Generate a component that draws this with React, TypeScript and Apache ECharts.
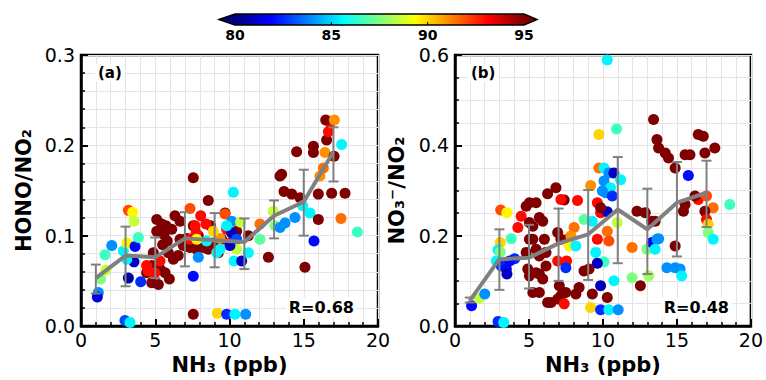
import { useEffect, useRef } from "react";
import * as echarts from "echarts";

// ---------- data ----------
// [NH3 (ppb), HONO/NO2, colour value]
const pointsA: number[][] = [
  [1.17, 0.037, 84], [1.1, 0.032, 81.5], [1.32, 0.052, 87.5], [1.68, 0.062, 88.5], [1.62, 0.079, 86.5],
  [2.07, 0.089, 84], [2.85, 0.083, 85.5], [3.08, 0.092, 89.5], [3.19, 0.128, 92], [3.48, 0.126, 89.5],
  [3.57, 0.116, 88.5], [3.64, 0.088, 82], [3.57, 0.071, 81], [3.19, 0.053, 80.5], [4.02, 0.049, 82.5],
  [3.86, 0.098, 86.5], [2.96, 0.006, 83], [3.3, 0.004, 85.5], [3.08, 0.074, 85.5],
  [4.42, 0.059, 95], [4.76, 0.048, 95], [5.21, 0.046, 95], [5.32, 0.063, 95], [5.1, 0.118, 95],
  [5.43, 0.113, 95], [5.59, 0.101, 95], [5.81, 0.094, 95], [5.95, 0.052, 95], [5.88, 0.081, 95],
  [6.22, 0.074, 95], [6.33, 0.122, 95], [6.67, 0.116, 95], [6.55, 0.078, 95], [6.89, 0.089, 95],
  [7.12, 0.097, 95], [7.56, 0.164, 95], [8.57, 0.139, 95], [7.56, 0.111, 95], [7.9, 0.1, 95],
  [7.34, 0.087, 95], [7.79, 0.085, 95], [8.24, 0.087, 95], [8.73, 0.111, 95], [8.91, 0.092, 95],
  [9.7, 0.125, 95], [5.5, 0.09, 95], [5.1, 0.105, 95], [5.72, 0.111, 95], [6.11, 0.107, 95],
  [4.87, 0.081, 95], [4.76, 0.067, 95], [5.66, 0.059, 95], [6.67, 0.096, 95], [9.25, 0.081, 95],
  [8.57, 0.085, 95], [9.47, 0.096, 95], [10.48, 0.105, 95], [11.27, 0.1, 95],
  [4.42, 0.067, 93], [4.53, 0.061, 93], [4.98, 0.059, 93], [7.34, 0.096, 93], [7.68, 0.111, 93],
  [8.06, 0.122, 93], [8.42, 0.113, 93], [7.34, 0.13, 92], [7.75, 0.103, 93], [9.81, 0.107, 93],
  [9.7, 0.124, 92], [10.03, 0.092, 93], [5.32, 0.072, 93],
  [7.9, 0.076, 84], [7.56, 0.055, 82], [7.56, 0.013, 95], [9.18, 0.014, 90], [9.81, 0.013, 82.5],
  [10.37, 0.013, 85.5], [11.09, 0.013, 84], [10.26, 0.148, 85.5], [10.15, 0.116, 84], [10.75, 0.115, 88.5],
  [10.15, 0.103, 81], [10.48, 0.096, 83], [10.48, 0.085, 88.5], [11.27, 0.081, 85.5], [10.3, 0.072, 85.5],
  [10.82, 0.072, 81], [9.14, 0.081, 85.5], [9.36, 0.097, 91], [10.03, 0.089, 81], [8.46, 0.094, 85.5],
  [8.91, 0.105, 90], [7.79, 0.096, 89.5], [9.36, 0.085, 85.5], [9.81, 0.111, 85.5],
  [12.05, 0.113, 91.5], [12.05, 0.096, 87], [12.62, 0.076, 95], [12.95, 0.127, 88.5], [13.06, 0.111, 87.5],
  [13.4, 0.109, 84], [13.74, 0.114, 84], [14.41, 0.12, 84], [13.51, 0.168, 95], [13.4, 0.166, 95],
  [13.67, 0.149, 95], [14.19, 0.146, 95], [14.75, 0.142, 95], [14.93, 0.133, 85.5], [15.42, 0.125, 85.5],
  [15.69, 0.094, 82], [15.08, 0.065, 95], [14.52, 0.193, 95], [15.65, 0.199, 95], [15.65, 0.192, 95],
  [15.98, 0.146, 95], [15.98, 0.118, 95], [16.09, 0.166, 91], [16.32, 0.175, 91.5], [16.43, 0.192, 91],
  [16.54, 0.206, 95], [16.66, 0.215, 93], [16.77, 0.225, 93], [16.48, 0.228, 95], [17.06, 0.228, 91],
  [17.55, 0.201, 85.5], [17.04, 0.188, 95], [16.88, 0.147, 95], [17.78, 0.147, 95], [17.51, 0.119, 91.5],
  [18.61, 0.104, 86.5],
];

// [NH3 (ppb), NO3-/NO2, colour value]
const pointsB: number[][] = [
  [1.12, 0.045, 82], [1.63, 0.061, 88.5], [2.01, 0.071, 84], [2.91, 0.01, 82.5], [3.29, 0.008, 85.5],
  [3.09, 0.257, 92], [3.51, 0.251, 89.5], [3.8, 0.193, 86.5], [3.06, 0.185, 90], [2.91, 0.168, 85.5],
  [3.06, 0.164, 87.5], [2.8, 0.144, 85.5], [3.13, 0.133, 82.5], [3.47, 0.126, 82], [3.51, 0.115, 81],
  [4.03, 0.149, 82.5], [3.69, 0.144, 82], [4.25, 0.218, 93], [4.47, 0.243, 93],
  [4.81, 0.265, 95], [5.03, 0.273, 95], [5.48, 0.273, 95], [5.7, 0.24, 95], [5.93, 0.232, 95],
  [5.26, 0.221, 95], [5.03, 0.192, 95], [4.81, 0.163, 95], [4.92, 0.126, 95], [5.03, 0.111, 95],
  [5.48, 0.118, 95], [5.26, 0.074, 95], [5.7, 0.074, 95], [5.93, 0.104, 95], [6.15, 0.133, 95],
  [6.26, 0.052, 95], [6.49, 0.052, 95], [6.94, 0.06, 95], [7.16, 0.067, 95], [7.49, 0.074, 95],
  [8.17, 0.071, 95], [7.05, 0.089, 95], [5.7, 0.155, 95], [5.48, 0.17, 95], [6.15, 0.163, 95],
  [6.26, 0.293, 95], [6.82, 0.306, 95], [7.38, 0.279, 95], [6.94, 0.207, 95], [7.16, 0.192, 95],
  [7.61, 0.192, 95], [5.26, 0.192, 95], [5.03, 0.229, 95], [6.04, 0.192, 95], [5.7, 0.115, 95],
  [8.39, 0.085, 95],
  [6.94, 0.144, 93], [7.54, 0.144, 93], [7.16, 0.28, 93], [8.28, 0.278, 93], [8.05, 0.218, 91.5],
  [7.83, 0.199, 91], [7.49, 0.129, 82.5], [7.72, 0.177, 89.5], [8.17, 0.177, 85.5], [7.38, 0.049, 93],
  [8.72, 0.236, 87], [9.28, 0.232, 85.5],
  [9.73, 0.35, 91.5], [9.17, 0.311, 91], [9.73, 0.424, 90], [10.29, 0.589, 85.5], [10.92, 0.436, 86.5],
  [10.07, 0.35, 85.5], [10.4, 0.339, 84], [10.74, 0.339, 81], [11.19, 0.324, 85.5], [10.07, 0.321, 84],
  [10.18, 0.295, 84], [10.51, 0.306, 85.5], [10.63, 0.288, 82.5], [9.96, 0.299, 84], [9.62, 0.273, 93],
  [9.84, 0.251, 93], [10.29, 0.253, 81], [10.96, 0.229, 88.5], [10.29, 0.21, 91.5], [10.4, 0.188, 92],
  [9.62, 0.192, 93], [9.51, 0.163, 85.5], [10.07, 0.142, 86.5], [9.62, 0.139, 81], [9.06, 0.126, 95],
  [8.72, 0.122, 95], [9.28, 0.071, 95], [10.29, 0.063, 95], [9.84, 0.089, 81], [10.74, 0.1, 85.5],
  [9.17, 0.041, 90], [9.84, 0.036, 82.5], [10.4, 0.036, 85.5], [11.03, 0.036, 84], [9.84, 0.262, 95],
  [11.97, 0.174, 91.5], [11.97, 0.107, 87.5], [12.53, 0.089, 95], [12.98, 0.17, 87.5], [13.09, 0.111, 88],
  [13.31, 0.185, 82], [13.65, 0.192, 84], [13.53, 0.17, 85.5], [13.76, 0.193, 84], [12.3, 0.254, 95],
  [12.86, 0.251, 95], [13.31, 0.232, 95], [13.42, 0.457, 95], [13.65, 0.413, 95], [13.76, 0.394, 95],
  [14.21, 0.383, 95], [14.43, 0.372, 95], [14.88, 0.35, 95], [15.55, 0.379, 95], [15.88, 0.379, 95],
  [15.77, 0.333, 82], [14.88, 0.177, 95], [14.32, 0.129, 84], [14.88, 0.129, 84], [15.21, 0.126, 84],
  [15.32, 0.111, 85.5], [15.44, 0.254, 95], [15.55, 0.269, 95], [16.44, 0.424, 95], [16.78, 0.42, 95],
  [16.89, 0.383, 95], [17.56, 0.394, 95], [16.44, 0.28, 93], [17.0, 0.288, 92], [17.45, 0.262, 91.5],
  [16.89, 0.254, 95], [17.0, 0.236, 93], [17.11, 0.225, 90], [17.11, 0.207, 87.5], [17.45, 0.192, 85.5],
  [18.57, 0.269, 86.5], [16.22, 0.288, 95], [13.53, 0.232, 95],
];

// binned means with error bars
const binCenters = [1, 3, 5, 7, 9, 11, 13, 15, 17];
const meanA = [0.053, 0.078, 0.076, 0.097, 0.095, 0.093, 0.122, 0.1375, 0.193];
const lowA = [0.036, 0.044, 0.053, 0.066, 0.065, 0.063, 0.097, 0.1, 0.16];
const highA = [0.068, 0.11, 0.098, 0.126, 0.125, 0.119, 0.139, 0.173, 0.22];
const meanB = [0.056, 0.148, 0.151, 0.183, 0.203, 0.258, 0.214, 0.273, 0.295];
const lowB = [0.052, 0.08, 0.083, 0.1, 0.102, 0.139, 0.115, 0.154, 0.219];
const highB = [0.063, 0.214, 0.224, 0.26, 0.301, 0.374, 0.304, 0.363, 0.366];

const colorbarTicks = [80, 85, 90, 95];
const xTicksMax = 20;
const yMaxA = 0.3;
const yMaxB = 0.6;
const rA = "R=0.68";
const rB = "R=0.48";

const JET = ["#00007f", "#0000ff", "#007fff", "#00ffff", "#7fff7f", "#ffff00", "#ff7f00", "#ff0000", "#7f0000"];
const FONT = "DejaVu Sans";
const GRAY = "#808080";

export default function App() {
  const ref = useRef<HTMLDivElement>(null);

  useEffect(() => {
    if (!ref.current) return;
    const chart = echarts.init(ref.current, undefined, { renderer: "svg" });

    const errRender = (params: any, api: any) => {
      const x = api.value(0);
      const lo = api.coord([x, api.value(1)]);
      const hi = api.coord([x, api.value(2)]);
      const w = 5;
      const style = { stroke: GRAY, lineWidth: 2 };
      return {
        type: "group",
        children: [
          { type: "line", shape: { x1: hi[0], y1: hi[1], x2: lo[0], y2: lo[1] }, style },
          { type: "line", shape: { x1: hi[0] - w, y1: hi[1], x2: hi[0] + w, y2: hi[1] }, style },
          { type: "line", shape: { x1: lo[0] - w, y1: lo[1], x2: lo[0] + w, y2: lo[1] }, style },
        ],
      };
    };

    const gridLine = { show: true, lineStyle: { color: "#e4e4e4", width: 1 } };
    const mkX = (gi: number) => ({
      type: "value",
      gridIndex: gi,
      min: 0,
      max: xTicksMax,
      interval: 5,
      name: "NH₃ (ppb)",
      nameLocation: "middle",
      nameGap: 28,
      nameTextStyle: { fontFamily: FONT, fontSize: 21, fontWeight: "bold", color: "#000" },
      axisLine: { show: true, lineStyle: { color: "#000", width: 2.5 } },
      axisTick: { show: true, inside: true, length: 7, lineStyle: { color: "#000", width: 2 } },
      minorTick: { show: true, splitNumber: 5, length: 4, lineStyle: { color: "#000", width: 1.5 } },
      axisLabel: { fontFamily: FONT, fontSize: 19, color: "#000", margin: 4 },
      splitLine: gridLine,
      minorSplitLine: gridLine,
    });
    const mkY = (gi: number, max: number, interval: number, minorSplit: number, name: string, gap: number) => ({
      type: "value",
      gridIndex: gi,
      min: 0,
      max,
      interval,
      name,
      nameLocation: "middle",
      nameGap: gap,
      nameTextStyle: { fontFamily: FONT, fontSize: 21, fontWeight: "bold", color: "#000" },
      axisLine: { show: true, lineStyle: { color: "#000", width: 2.5 } },
      axisTick: { show: true, inside: true, length: 7, lineStyle: { color: "#000", width: 2 } },
      minorTick: { show: true, splitNumber: minorSplit, length: 4, lineStyle: { color: "#000", width: 1.5 } },
      axisLabel: { fontFamily: FONT, fontSize: 19, color: "#000", margin: 6, formatter: (v: number) => v.toFixed(1) },
      splitLine: gridLine,
      minorSplitLine: gridLine,
    });

    const cbL = 235, cbR = 524, cbT = 14, cbB = 25, cbMid = (cbT + cbB) / 2;
    const cbX = (v: number) => cbL + ((v - colorbarTicks[0]) / (colorbarTicks[colorbarTicks.length - 1] - colorbarTicks[0])) * (cbR - cbL);

    const boxText = (x: number, y: number, text: string, size: number, align: string) => ({
      type: "text",
      x,
      y,
      z: 100,
      style: {
        text,
        fontFamily: FONT,
        fontSize: size,
        fontWeight: "bold",
        fill: "#000",
        align,
        verticalAlign: "middle",
        backgroundColor: "#fff",
        padding: [2, 3, 1, 3],
      },
    });

    const graphics: any[] = [
      {
        type: "rect",
        shape: { x: cbL, y: cbT, width: cbR - cbL, height: cbB - cbT },
        style: {
          fill: new echarts.graphic.LinearGradient(0, 0, 1, 0, JET.map((c, i) => ({ offset: i / (JET.length - 1), color: c }))),
        },
      },
      { type: "polygon", shape: { points: [[cbL - 16, cbMid], [cbL + 0.5, cbT], [cbL + 0.5, cbB]] }, style: { fill: JET[0] } },
      { type: "polygon", shape: { points: [[cbR + 13, cbMid], [cbR - 0.5, cbT], [cbR - 0.5, cbB]] }, style: { fill: JET[JET.length - 1] } },
      {
        type: "polygon",
        shape: { points: [[cbL - 16, cbMid], [cbL, cbT], [cbR, cbT], [cbR + 13, cbMid], [cbR, cbB], [cbL, cbB]] },
        style: { fill: "none", stroke: "#000", lineWidth: 1.5 },
      },
      ...colorbarTicks.map((t) => ({
        type: "text",
        x: cbX(t),
        y: 35,
        style: { text: String(t), fontFamily: FONT, fontSize: 14, fontWeight: "bold", fill: "#000", align: "center", verticalAlign: "middle" },
      })),
      ...colorbarTicks.slice(1, -1).map((t) => ({
        type: "line",
        shape: { x1: cbX(t), y1: cbB - 3, x2: cbX(t), y2: cbB },
        style: { stroke: "#000", lineWidth: 1 },
      })),
      boxText(95, 73, "(a)", 15, "left"),
      boxText(468, 73, "(b)", 15, "left"),
      boxText(357, 307, rA, 16, "right"),
      boxText(732, 307, rB, 16, "right"),
    ];

    chart.setOption({
      animation: false,
      textStyle: { fontFamily: FONT },
      grid: [
        { left: 81, top: 55, right: 388, bottom: 53, show: true, borderColor: "#000", borderWidth: 2.5 },
        { left: 455, top: 55, right: 13, bottom: 53, show: true, borderColor: "#000", borderWidth: 2.5 },
      ],
      xAxis: [mkX(0), mkX(1)],
      yAxis: [
        mkY(0, yMaxA, 0.1, 5, "HONO/NO₂", 47),
        mkY(1, yMaxB, 0.2, 4, "NO₃⁻/NO₂", 48),
      ],
      visualMap: {
        type: "continuous",
        show: false,
        min: colorbarTicks[0],
        max: colorbarTicks[colorbarTicks.length - 1],
        dimension: 2,
        seriesIndex: [0, 1],
        inRange: { color: JET },
      },
      series: [
        { type: "scatter", xAxisIndex: 0, yAxisIndex: 0, data: pointsA, symbolSize: 11, z: 2, itemStyle: { opacity: 1 } },
        { type: "scatter", xAxisIndex: 1, yAxisIndex: 1, data: pointsB, symbolSize: 11, z: 2, itemStyle: { opacity: 1 } },
        {
          type: "line", xAxisIndex: 0, yAxisIndex: 0, z: 4, symbol: "none",
          data: binCenters.map((x, i) => [x, meanA[i]]),
          lineStyle: { color: GRAY, width: 4 },
        },
        {
          type: "line", xAxisIndex: 1, yAxisIndex: 1, z: 4, symbol: "none",
          data: binCenters.map((x, i) => [x, meanB[i]]),
          lineStyle: { color: GRAY, width: 4 },
        },
        {
          type: "custom", xAxisIndex: 0, yAxisIndex: 0, z: 5, renderItem: errRender,
          encode: { x: 0, y: [1, 2] },
          data: binCenters.map((x, i) => [x, lowA[i], highA[i]]),
        },
        {
          type: "custom", xAxisIndex: 1, yAxisIndex: 1, z: 5, renderItem: errRender,
          encode: { x: 0, y: [1, 2] },
          data: binCenters.map((x, i) => [x, lowB[i], highB[i]]),
        },
      ],
      graphic: graphics,
    });

    return () => chart.dispose();
  }, []);

  return (
    <div
      ref={ref}
      style={{ position: "fixed", left: 0, top: 0, width: 766, height: 380, background: "#fff" }}
    />
  );
}
